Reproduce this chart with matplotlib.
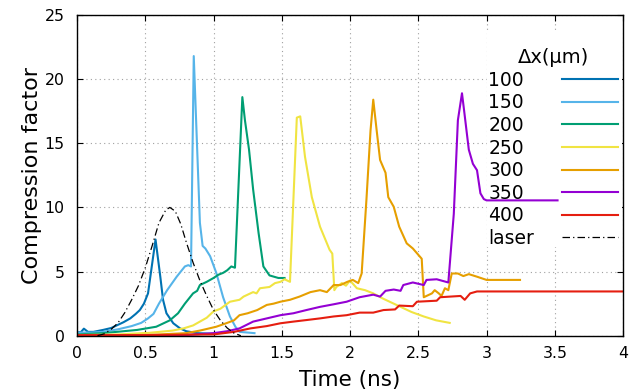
import matplotlib
matplotlib.use("Agg")
import matplotlib.pyplot as plt
from matplotlib.patches import Rectangle

# Compression factor vs time for each grid spacing
t100 = [0.0, 0.03, 0.05, 0.08, 0.12, 0.19, 0.25, 0.29, 0.34, 0.39, 0.43, 0.46, 0.49, 0.52,
        0.575, 0.61, 0.63, 0.655, 0.705, 0.755, 0.80, 0.88, 1.0]
y100 = [0.25, 0.3, 0.55, 0.3, 0.3, 0.45, 0.6, 0.8, 1.05, 1.35, 1.7, 2.0, 2.5, 3.3,
        7.5, 4.6, 2.8, 1.75, 0.97, 0.57, 0.35, 0.2, 0.15]

t150 = [0.0, 0.1, 0.19, 0.3, 0.4, 0.47, 0.52, 0.56, 0.6, 0.66, 0.73, 0.79, 0.815, 0.835,
        0.855, 0.875, 0.90, 0.92, 0.94, 0.975, 1.02, 1.07, 1.12, 1.16, 1.19, 1.3]
y150 = [0.25, 0.25, 0.3, 0.5, 0.75, 1.0, 1.35, 1.7, 2.5, 3.55, 4.6, 5.4, 5.5, 5.4,
        21.8, 16.0, 8.8, 7.0, 6.8, 6.2, 4.9, 3.0, 1.5, 0.7, 0.3, 0.2]

t200 = [0.0, 0.19, 0.44, 0.58, 0.68, 0.74, 0.79, 0.85, 0.88, 0.9, 0.95, 1.0, 1.035, 1.07,
        1.1, 1.13, 1.157, 1.211, 1.23, 1.26, 1.29, 1.33, 1.365, 1.41, 1.475, 1.52]
y200 = [0.1, 0.2, 0.45, 0.7, 1.2, 1.75, 2.5, 3.3, 3.5, 3.95, 4.2, 4.5, 4.75, 4.9,
        5.1, 5.4, 5.3, 18.6, 16.8, 14.5, 11.4, 8.0, 5.4, 4.7, 4.5, 4.5]

t250 = [0.0, 0.3, 0.535, 0.7, 0.78, 0.85, 0.9, 0.95, 1.0, 1.05, 1.12, 1.19, 1.22, 1.29,
        1.315, 1.34, 1.41, 1.45, 1.49, 1.52, 1.56, 1.61, 1.635, 1.67, 1.72, 1.78, 1.85,
        1.87, 1.885, 1.90, 1.94, 1.97, 2.0, 2.05, 2.11, 2.17, 2.24, 2.34, 2.45, 2.54,
        2.63, 2.73]
y250 = [0.05, 0.1, 0.23, 0.4, 0.57, 0.8, 1.1, 1.4, 1.9, 2.1, 2.65, 2.8, 3.05, 3.4,
        3.3, 3.7, 3.8, 4.1, 4.2, 4.4, 4.2, 17.0, 17.1, 13.95, 10.8, 8.5, 6.7,
        6.4, 3.55, 3.8, 4.1, 3.9, 4.3, 3.7, 3.55, 3.3, 2.9, 2.4, 1.85, 1.5,
        1.2, 1.0]

t300 = [0.0, 0.5, 0.8, 0.9, 1.02, 1.1, 1.15, 1.19, 1.25, 1.32, 1.39, 1.44, 1.49, 1.56,
        1.63, 1.71, 1.78, 1.83, 1.88, 1.93, 1.98, 2.02, 2.06, 2.085, 2.12, 2.15, 2.17,
        2.195, 2.22, 2.26, 2.28, 2.32, 2.36, 2.415, 2.46, 2.525, 2.54, 2.56, 2.6, 2.62,
        2.65, 2.67, 2.695, 2.72, 2.745, 2.79, 2.83, 2.87, 2.93, 3.0, 3.245]
y300 = [0.0, 0.05, 0.2, 0.4, 0.7, 1.0, 1.2, 1.6, 1.75, 2.0, 2.4, 2.5, 2.65, 2.8,
        3.05, 3.4, 3.55, 3.4, 3.95, 3.95, 4.2, 4.35, 4.1, 4.85, 10.6, 16.0, 18.4,
        16.0, 13.7, 12.7, 10.8, 10.05, 8.5, 7.2, 6.8, 6.0, 3.0, 3.1, 3.3, 3.55,
        3.3, 3.1, 3.7, 3.55, 4.85, 4.85, 4.65, 4.8, 4.6, 4.35, 4.35]

t350 = [0.0, 0.8, 1.0, 1.1, 1.19, 1.29, 1.39, 1.49, 1.585, 1.68, 1.78, 1.88, 1.975, 2.07,
        2.17, 2.22, 2.26, 2.32, 2.37, 2.39, 2.46, 2.54, 2.56, 2.635, 2.72, 2.76, 2.79,
        2.82, 2.835, 2.87, 2.90, 2.93, 2.955, 2.98, 3.0, 3.52]
y350 = [0.0, 0.05, 0.2, 0.35, 0.57, 1.1, 1.35, 1.6, 1.75, 2.0, 2.25, 2.45, 2.65, 3.0,
        3.2, 3.05, 3.5, 3.6, 3.5, 3.95, 4.15, 3.95, 4.35, 4.4, 4.15, 9.5, 16.8,
        18.9, 17.6, 14.5, 13.4, 12.9, 11.1, 10.65, 10.55, 10.55]

t400 = [0.0, 0.5, 1.0, 1.15, 1.27, 1.39, 1.49, 1.585, 1.68, 1.78, 1.88, 1.975, 2.07, 2.17,
        2.245, 2.33, 2.36, 2.46, 2.49, 2.635, 2.66, 2.81, 2.84, 2.88, 2.93, 3.0, 4.0]
y400 = [0.05, 0.05, 0.1, 0.3, 0.57, 0.75, 0.97, 1.1, 1.22, 1.35, 1.5, 1.6, 1.8, 1.8,
        2.0, 2.05, 2.35, 2.3, 2.65, 2.73, 3.0, 3.1, 2.8, 3.3, 3.45, 3.45, 3.45]

# laser pulse (normalised to peak 10)
t_laser = [0.15, 0.2, 0.25, 0.3, 0.35, 0.4, 0.45, 0.5, 0.55, 0.6, 0.65, 0.68, 0.72,
           0.76, 0.8, 0.85, 0.9, 0.95, 1.0, 1.05, 1.1, 1.15, 1.2]
y_laser = [0.0, 0.15, 0.5, 1.0, 1.8, 2.8, 3.9, 5.3, 7.0, 8.8, 9.8, 10.0, 9.7,
           8.7, 7.3, 5.7, 4.3, 3.1, 2.0, 1.2, 0.6, 0.2, 0.0]

labels = ["100", "150", "200", "250", "300", "350", "400"]
series = [(t100, y100), (t150, y150), (t200, y200), (t250, y250),
          (t300, y300), (t350, y350), (t400, y400)]
colors = ["#0072b2", "#56b4e9", "#009e73", "#f0e442", "#e69f00", "#9400d3", "#e51e10"]

xticks = [0, 0.5, 1, 1.5, 2, 2.5, 3, 3.5, 4]
xticklabels = ["0", "0.5", "1", "1.5", "2", "2.5", "3", "3.5", "4"]
yticks = [0, 5, 10, 15, 20, 25]

DPI = 100
fig = plt.figure(figsize=(6.42, 3.91), dpi=DPI)
ax = fig.add_axes([0.12, 0.1414, 0.8505, 0.8202])

handles = []
for (t, y), lab, col in zip(series, labels, colors):
    line, = ax.plot(t, y, color=col, lw=1.5, label=lab, zorder=2)
    handles.append(line)
line, = ax.plot(t_laser, y_laser, color="black", lw=0.9,
                linestyle=(0, (6, 2.5, 1, 2.5)), label="laser", zorder=2)
handles.append(line)

ax.set_xlim(0, 4)
ax.set_ylim(0, 25)
ax.set_xticks(xticks)
ax.set_xticklabels(xticklabels)
ax.set_yticks(yticks)
ax.tick_params(direction="in", top=True, right=True, length=4.5, width=0.8,
               labelsize=11.3)
ax.tick_params(axis="x", pad=7.5)
ax.tick_params(axis="y", pad=9)
ax.set_axisbelow(True)
ax.grid(True, linestyle=(0, (1, 3)), color="#a0a0a0", lw=0.8)
for sp in ax.spines.values():
    sp.set_linewidth(1.0)

ax.set_xlabel("Time (ns)", fontsize=15.5, labelpad=6.5)
ax.set_ylabel("Compression factor", fontsize=16, labelpad=2)

# opaque key area (hides the grid, data lines stay on top)
ax.add_patch(Rectangle((0.751, 0.277), 0.247, 0.667, transform=ax.transAxes,
                       facecolor="white", edgecolor="none", zorder=1.5))

text_pad = 1.5 * 13.5  # points between label column and line samples
leg = ax.legend(handles=handles, title="Δx(μm)", loc="upper left",
                bbox_to_anchor=(0.753, 0.896), frameon=False, markerfirst=False,
                fontsize=13.5, title_fontsize=14, handlelength=3.0,
                handletextpad=1.5, labelspacing=0.19, borderpad=0,
                borderaxespad=0)

# gnuplot-style key: labels left aligned, samples in one column on the right
fig.canvas.draw()
renderer = fig.canvas.get_renderer()
widths = [t.get_window_extent(renderer).width for t in leg.get_texts()]
max_w = max(widths)
rows = [r for col in leg._legend_handle_box.get_children() for r in col.get_children()]
for row, w in zip(rows, widths):
    row.sep = text_pad + (max_w - w) * 72.0 / DPI

fig.savefig("out.png", dpi=DPI)
